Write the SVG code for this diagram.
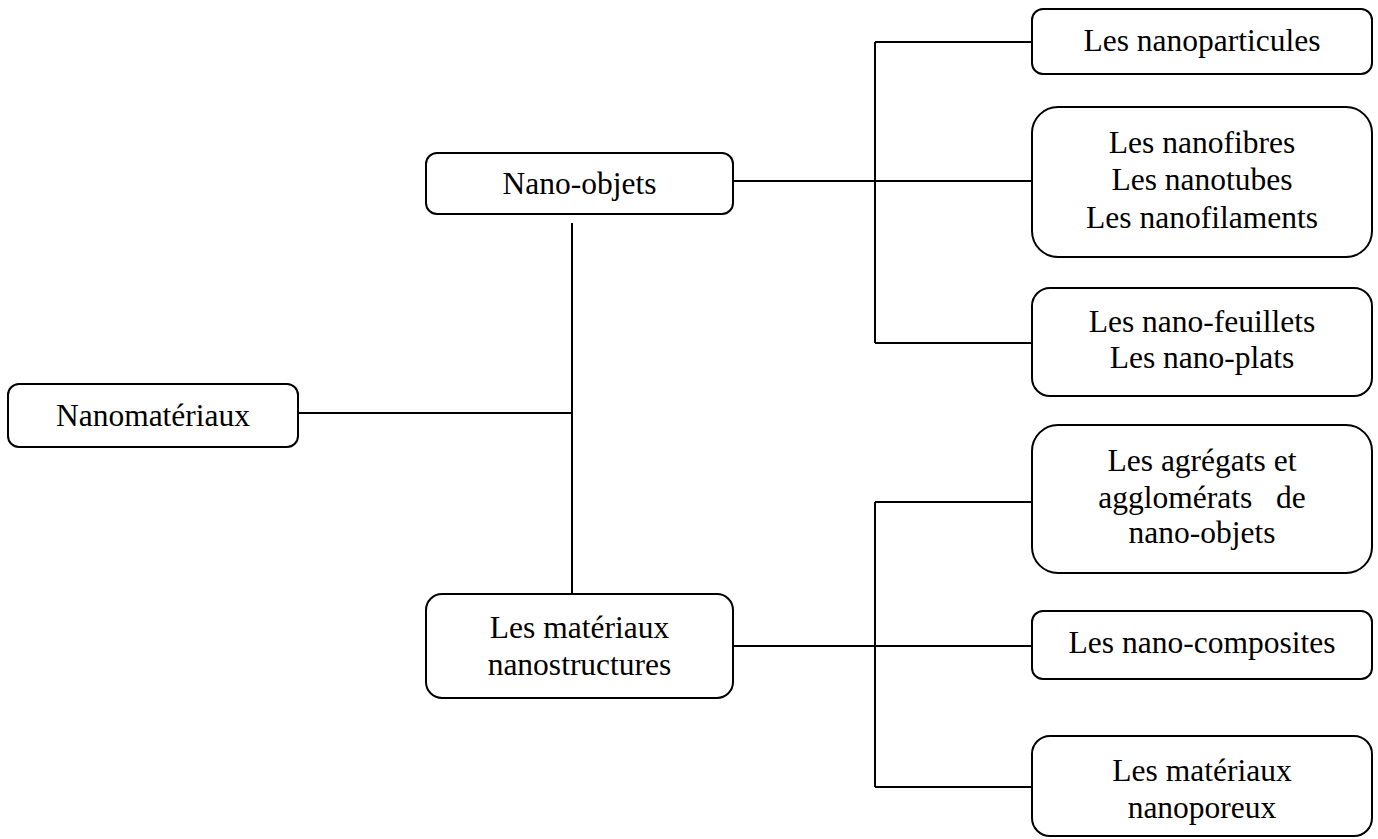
<svg xmlns="http://www.w3.org/2000/svg" width="1378" height="839" viewBox="0 0 1378 839">
<style>
.box{fill:#fff;stroke:#000;stroke-width:2}
.t{font-family:"Liberation Serif","Times New Roman",serif;font-size:31.5px;fill:#000;text-anchor:middle}
.c{fill:none;stroke:#000;stroke-width:2}
</style>
<rect width="1378" height="839" fill="#fff"/>
<g id="connectors">
<path class="c" d="M298 413H572M572 223V594"/>
<path class="c" d="M733 181H1032M875 42V343M875 42H1032M875 343H1032"/>
<path class="c" d="M733 646H1032M875 502V787M875 502H1032M875 787H1032"/>
</g>
<g id="n-nanomateriaux">
<rect class="box" x="8" y="384" width="290" height="63" rx="11"/>
<text class="t" x="153" y="426">Nanomatériaux</text>
</g>
<g id="n-nanoobjets">
<rect class="box" x="426" y="153" width="307" height="61" rx="11"/>
<text class="t" x="579.5" y="194">Nano-objets</text>
</g>
<g id="n-nanostructures">
<rect class="box" x="426" y="594" width="307" height="104" rx="16"/>
<text class="t" x="579.5" y="638">Les matériaux</text>
<text class="t" x="579.5" y="675">nanostructures</text>
</g>
<g id="n-nanoparticules">
<rect class="box" x="1032" y="9" width="340" height="65" rx="11"/>
<text class="t" x="1202" y="51">Les nanoparticules</text>
</g>
<g id="n-nanofibres">
<rect class="box" x="1032" y="107" width="340" height="150" rx="26"/>
<text class="t" x="1202" y="153">Les nanofibres</text>
<text class="t" x="1202" y="190">Les nanotubes</text>
<text class="t" x="1202" y="228">Les nanofilaments</text>
</g>
<g id="n-nanofeuillets">
<rect class="box" x="1032" y="288" width="340" height="108" rx="18"/>
<text class="t" x="1202" y="332">Les nano-feuillets</text>
<text class="t" x="1202" y="368">Les nano-plats</text>
</g>
<g id="n-agregats">
<rect class="box" x="1032" y="425" width="340" height="148" rx="26"/>
<text class="t" x="1202" y="471">Les agrégats et</text>
<text class="t" x="1202" y="508" xml:space="preserve">agglomérats   de</text>
<text class="t" x="1202" y="543">nano-objets</text>
</g>
<g id="n-nanocomposites">
<rect class="box" x="1032" y="611" width="340" height="68" rx="11"/>
<text class="t" x="1202" y="653">Les nano-composites</text>
</g>
<g id="n-nanoporeux">
<rect class="box" x="1032" y="736" width="340" height="100" rx="18"/>
<text class="t" x="1202" y="781">Les matériaux</text>
<text class="t" x="1202" y="818">nanoporeux</text>
</g>
</svg>
